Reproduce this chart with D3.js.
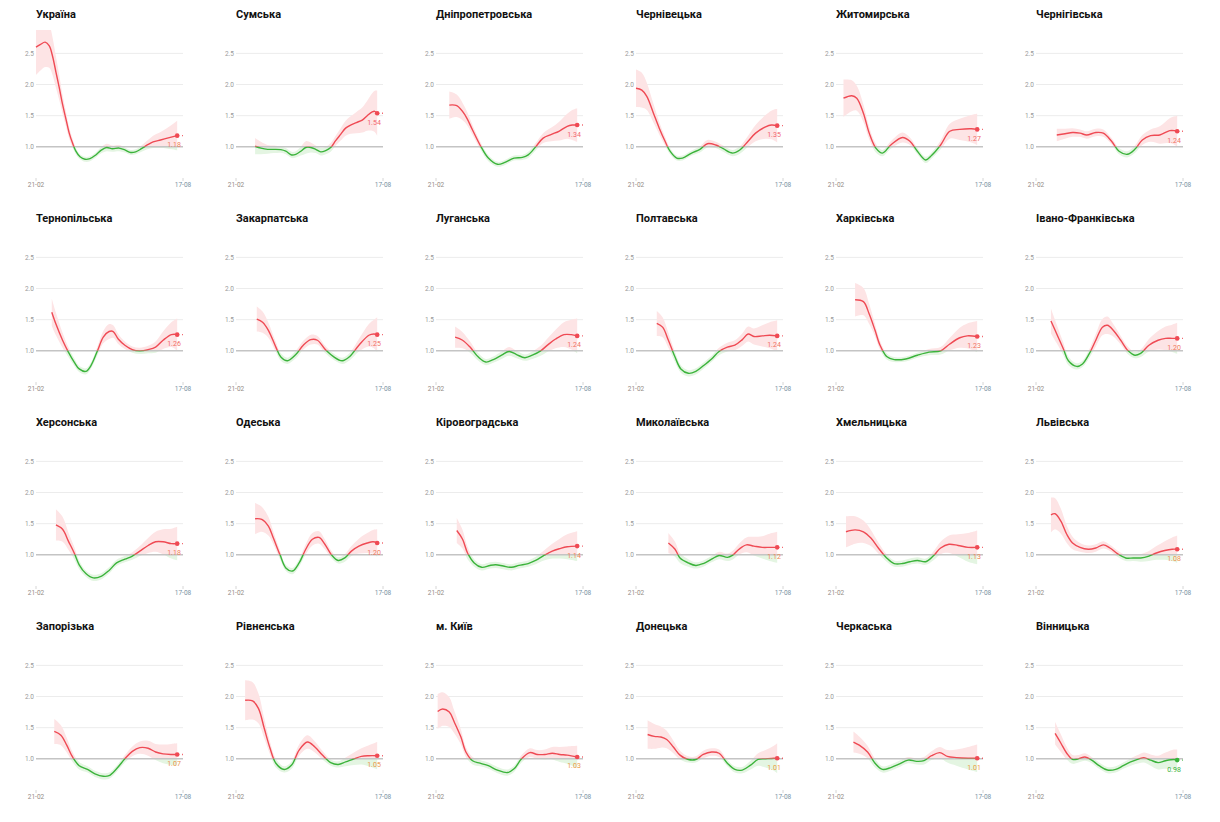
<!DOCTYPE html>
<html><head><meta charset="utf-8">
<script src="https://cdn.jsdelivr.net/npm/d3@7"></script>
<style>body{margin:0;background:#fff}svg{display:block}</style>
</head><body>
<svg id="chart" width="1220" height="822"></svg>
<script>
const regionNames = ["Україна","Сумська","Дніпропетровська","Чернівецька","Житомирська","Чернігівська",
  "Тернопільська","Закарпатська","Луганська","Полтавська","Харківська","Івано-Франківська",
  "Херсонська","Одеська","Кіровоградська","Миколаївська","Хмельницька","Львівська",
  "Запорізька","Рівненська","м. Київ","Донецька","Черкаська","Вінницька"];
const startDate = "2021-02-21", endDate = "2021-08-17";
const xTickLabels = ["21-02","17-08"];
const yTicks = [1.0,1.5,2.0,2.5];
const endLabels = ["1.18","1.54","1.34","1.35","1.27","1.24","1.26","1.25","1.24","1.24","1.23","1.20",
  "1.18","1.20","1.14","1.12","1.13","1.08","1.07","1.05","1.03","1.01","1.01","0.98"];

// [day offset from 21-02, Rt, half-width of interval]
const ukraine = [[0,2.60,.45],[5,2.64,.42],[11,2.68,.4],[16,2.62,.35],[20,2.45,.3],[24,2.2,.25],[28,1.95,.2],[32,1.68,.15],[36,1.45,.12],[40,1.22,.09],[44,1.06,.07],[48,0.93,.05],[53,0.84,.04],[59,0.80,.04],[65,0.81,.04],[72,0.87,.04],[79,0.95,.05],[85,0.99,.06],[92,0.97,.05],[100,0.98,.05],[107,0.95,.04],[114,0.91,.04],[120,0.92,.04],[127,0.97,.05],[134,1.03,.07],[141,1.08,.1],[150,1.11,.13],[157,1.135,.16],[164,1.16,.2],[170,1.18,.24]];
const sumy = [[23,1.01,.13],[30,0.98,.1],[38,0.96,.07],[46,0.96,.06],[54,0.955,.05],[60,0.93,.05],[67,0.87,.05],[72,0.88,.05],[78,0.93,.07],[84,0.99,.1],[90,0.99,.08],[96,0.96,.06],[102,0.92,.06],[108,0.94,.06],[114,0.99,.07],[120,1.1,.08],[126,1.2,.1],[132,1.3,.12],[138,1.35,.14],[145,1.39,.17],[152,1.43,.2],[158,1.5,.24],[164,1.56,.3],[167,1.57,.33],[170,1.54,.36]];
const dnipro = [[16,1.67,.22],[25,1.66,.18],[35,1.51,.12],[44,1.27,.08],[53,1.03,.06],[63,0.82,.05],[74,0.72,.04],[83,0.75,.04],[94,0.82,.04],[104,0.83,.04],[111,0.87,.05],[120,1.0,.06],[129,1.14,.08],[139,1.20,.11],[148,1.25,.15],[158,1.33,.2],[164,1.35,.24],[170,1.35,.27]];
const chernivtsi = [[0,1.94,.3],[7,1.91,.28],[13,1.81,.22],[21,1.54,.15],[28,1.30,.1],[35,1.09,.07],[41,0.93,.05],[49,0.82,.04],[56,0.82,.04],[67,0.90,.04],[77,0.96,.05],[86,1.05,.06],[96,1.03,.05],[105,0.97,.05],[116,0.90,.05],[125,0.95,.06],[135,1.09,.09],[144,1.22,.13],[156,1.32,.19],[163,1.35,.23],[170,1.34,.27]];
const zhytomyr = [[9,1.78,.3],[19,1.82,.25],[25,1.78,.2],[33,1.54,.14],[40,1.22,.1],[48,0.98,.07],[56,0.90,.05],[66,1.03,.06],[80,1.15,.08],[89,1.09,.06],[98,0.93,.05],[108,0.79,.05],[115,0.86,.05],[126,1.03,.07],[137,1.25,.12],[149,1.28,.17],[163,1.29,.22],[170,1.28,.25]];
const chernihiv = [[25,1.19,.1],[35,1.21,.08],[44,1.23,.07],[53,1.22,.06],[61,1.19,.06],[72,1.23,.06],[81,1.22,.06],[91,1.09,.05],[100,0.93,.05],[110,0.88,.05],[119,0.96,.06],[128,1.11,.08],[138,1.18,.1],[149,1.19,.14],[161,1.26,.2],[167,1.26,.23],[170,1.25,.25]];
const ternopil = [[19,1.62,.22],[24,1.43,.18],[32,1.17,.12],[39,0.98,.08],[46,0.82,.06],[52,0.71,.05],[60,0.67,.05],[66,0.76,.05],[74,1.0,.07],[81,1.22,.1],[88,1.31,.12],[93,1.31,.1],[99,1.19,.08],[107,1.09,.06],[116,1.02,.05],[125,1.0,.05],[135,1.02,.06],[144,1.06,.09],[153,1.17,.14],[163,1.26,.2],[170,1.26,.26]];
const zakarpattia = [[25,1.51,.2],[32,1.46,.17],[39,1.33,.12],[48,1.06,.08],[54,0.90,.06],[62,0.84,.05],[72,0.94,.06],[81,1.09,.07],[90,1.18,.08],[98,1.17,.07],[107,1.03,.06],[117,0.91,.05],[128,0.84,.05],[137,0.91,.06],[148,1.09,.1],[160,1.25,.18],[166,1.27,.23],[170,1.26,.28]];
const luhansk = [[23,1.22,.17],[32,1.17,.13],[41,1.06,.09],[51,0.90,.06],[60,0.82,.05],[69,0.86,.05],[79,0.93,.06],[88,0.99,.07],[97,0.94,.06],[107,0.89,.05],[116,0.93,.06],[126,1.0,.08],[135,1.10,.11],[144,1.19,.15],[154,1.26,.2],[163,1.26,.24],[170,1.24,.28]];
const poltava = [[25,1.44,.2],[32,1.38,.16],[39,1.17,.12],[47,0.90,.08],[54,0.71,.06],[63,0.64,.05],[72,0.67,.05],[81,0.76,.05],[91,0.87,.05],[100,0.99,.06],[110,1.06,.07],[119,1.09,.08],[128,1.18,.1],[135,1.27,.12],[142,1.23,.13],[152,1.24,.17],[161,1.25,.21],[170,1.24,.25]];
const kharkiv = [[23,1.82,.27],[33,1.79,.22],[40,1.59,.16],[47,1.33,.1],[53,1.09,.07],[61,0.91,.05],[70,0.86,.04],[84,0.87,.04],[98,0.93,.04],[112,0.98,.05],[126,1.0,.06],[137,1.11,.1],[149,1.21,.16],[158,1.24,.2],[170,1.23,.25]];
const ivanoFrankivsk = [[18,1.48,.2],[25,1.27,.15],[33,1.03,.1],[39,0.84,.07],[49,0.75,.05],[56,0.79,.05],[64,0.95,.07],[72,1.17,.1],[80,1.38,.13],[86,1.41,.14],[93,1.33,.1],[102,1.17,.07],[111,1.0,.06],[119,0.93,.05],[126,0.96,.06],[136,1.09,.1],[147,1.17,.15],[156,1.20,.19],[164,1.20,.22],[170,1.20,.25]];
const kherson = [[24,1.48,.25],[32,1.41,.2],[39,1.22,.14],[46,1.03,.1],[52,0.84,.07],[60,0.70,.05],[69,0.63,.05],[79,0.66,.05],[88,0.75,.05],[97,0.87,.05],[107,0.93,.05],[116,0.98,.06],[125,1.06,.08],[135,1.15,.12],[144,1.21,.16],[153,1.21,.2],[163,1.18,.24],[170,1.18,.27]];
const odesa = [[23,1.58,.25],[31,1.57,.2],[39,1.46,.15],[45,1.27,.1],[53,1.0,.07],[60,0.79,.05],[68,0.74,.05],[76,0.87,.06],[84,1.09,.08],[92,1.25,.1],[100,1.28,.1],[107,1.17,.08],[115,1.0,.06],[123,0.91,.05],[131,0.95,.06],[139,1.06,.08],[148,1.14,.12],[158,1.19,.16],[165,1.21,.19],[170,1.19,.22]];
const kirovohrad = [[25,1.39,.2],[32,1.25,.15],[38,1.03,.1],[46,0.87,.06],[55,0.80,.05],[65,0.83,.05],[72,0.84,.05],[81,0.82,.05],[91,0.80,.05],[100,0.83,.05],[111,0.86,.05],[120,0.91,.06],[130,0.99,.08],[140,1.06,.12],[149,1.10,.16],[158,1.13,.2],[170,1.14,.24]];
const mykolaiv = [[39,1.19,.16],[47,1.09,.12],[53,0.95,.08],[63,0.87,.06],[72,0.83,.05],[81,0.86,.05],[91,0.93,.05],[100,0.99,.06],[110,0.96,.06],[116,0.99,.07],[124,1.09,.09],[133,1.16,.12],[142,1.14,.15],[152,1.12,.18],[161,1.12,.22],[170,1.12,.25]];
const khmelnytskyi = [[12,1.37,.25],[23,1.40,.22],[33,1.37,.18],[42,1.27,.13],[51,1.11,.09],[61,0.95,.06],[70,0.86,.05],[80,0.86,.05],[89,0.89,.05],[98,0.91,.05],[108,0.89,.05],[117,0.98,.07],[126,1.11,.1],[136,1.17,.14],[147,1.15,.18],[159,1.12,.23],[170,1.12,.27]];
const lviv = [[18,1.64,.28],[23,1.66,.25],[30,1.54,.2],[37,1.33,.14],[44,1.19,.1],[53,1.12,.07],[63,1.09,.06],[72,1.11,.06],[81,1.16,.06],[89,1.11,.05],[98,1.02,.05],[108,0.95,.05],[117,0.95,.05],[126,0.95,.06],[136,0.98,.08],[145,1.03,.11],[155,1.07,.15],[164,1.09,.19],[170,1.09,.22]];
const zaporizhzhia = [[22,1.44,.2],[30,1.38,.16],[37,1.22,.12],[44,1.03,.08],[52,0.89,.06],[62,0.83,.05],[71,0.76,.05],[81,0.72,.05],[88,0.73,.05],[97,0.84,.05],[107,1.0,.06],[116,1.12,.08],[125,1.18,.1],[135,1.17,.12],[144,1.11,.13],[153,1.08,.15],[163,1.07,.17],[170,1.07,.18]];
const rivne = [[11,1.94,.32],[20,1.93,.3],[27,1.81,.24],[34,1.49,.16],[41,1.17,.1],[48,0.93,.07],[58,0.83,.05],[67,0.90,.06],[76,1.14,.09],[86,1.27,.11],[95,1.19,.09],[104,1.06,.07],[114,0.94,.05],[123,0.91,.05],[132,0.95,.07],[142,1.0,.1],[151,1.04,.13],[160,1.05,.17],[170,1.05,.22]];
const kyivCity = [[2,1.76,.28],[8,1.80,.27],[16,1.75,.24],[22,1.59,.18],[30,1.35,.12],[36,1.11,.08],[44,0.97,.06],[53,0.93,.05],[63,0.89,.05],[74,0.82,.05],[86,0.78,.05],[94,0.84,.05],[103,1.0,.06],[113,1.10,.07],[122,1.07,.07],[131,1.07,.08],[140,1.09,.1],[149,1.07,.12],[158,1.06,.14],[170,1.03,.18]];
const donetsk = [[14,1.39,.23],[22,1.36,.2],[30,1.35,.17],[37,1.31,.14],[45,1.19,.1],[53,1.06,.07],[63,0.99,.05],[72,0.99,.05],[81,1.07,.06],[91,1.11,.06],[100,1.09,.06],[110,0.93,.05],[119,0.83,.05],[128,0.82,.05],[138,0.90,.07],[147,0.99,.1],[156,1.0,.14],[166,1.01,.2],[170,1.01,.24]];
const cherkasy = [[21,1.27,.17],[28,1.22,.14],[38,1.11,.1],[47,0.93,.07],[56,0.83,.05],[66,0.86,.05],[75,0.91,.05],[87,0.98,.05],[97,0.96,.05],[106,0.97,.06],[115,1.05,.07],[125,1.10,.09],[134,1.04,.1],[145,1.02,.13],[159,1.01,.18],[170,1.01,.22]];
const vinnytsia = [[23,1.41,.18],[30,1.25,.14],[37,1.09,.1],[44,0.99,.07],[51,1.0,.06],[59,1.03,.06],[67,0.98,.05],[76,0.89,.05],[86,0.82,.05],[96,0.83,.05],[105,0.89,.05],[114,0.95,.06],[124,1.0,.07],[130,1.02,.08],[138,0.98,.09],[147,0.94,.11],[156,0.97,.13],[166,0.99,.16],[170,0.98,.17]];

const regionSeries = [ukraine,sumy,dnipro,chernivtsi,zhytomyr,chernihiv,
  ternopil,zakarpattia,luhansk,poltava,kharkiv,ivanoFrankivsk,
  kherson,odesa,kirovohrad,mykolaiv,khmelnytskyi,lviv,
  zaporizhzhia,rivne,kyivCity,donetsk,cherkasy,vinnytsia];

const RED = "#ef4a54", GREEN = "#3bb33b", PINK = "#fde4e5", LGREEN = "#e4f5e2";
const parse = d3.timeParse("%Y-%m-%d");
const t0 = parse(startDate), t1 = parse(endDate);
const x = d3.scaleTime().domain([t0, t1]).range([36, 183]);
const y = d3.scaleLinear().domain([0.5, 2.875]).range([178, 30]);
const dayToDate = d => d3.timeDay.offset(t0, d);
const labelColor = d3.scaleLinear().domain([1, 1.3]).range(["#eaa040", "#f2646c"]).clamp(true);

const svg = d3.select("#chart");
const defs = svg.append("defs");
defs.append("clipPath").attr("id","clipAbove").append("rect")
  .attr("x",0).attr("y",y.range()[1]).attr("width",200).attr("height",y(1)-y.range()[1]);
defs.append("clipPath").attr("id","clipBelow").append("rect")
  .attr("x",0).attr("y",y(1)).attr("width",200).attr("height",60);

const line = d3.line().x(p => x(dayToDate(p[0]))).y(p => y(p[1])).curve(d3.curveCatmullRom.alpha(0.5));
const area = d3.area().x(p => x(dayToDate(p[0]))).y0(p => y(p[1]-p[2])).y1(p => y(p[1]+p[2])).curve(d3.curveCatmullRom.alpha(0.5));
const font = "Roboto, 'Open Sans', sans-serif";

regionNames.forEach((name, i) => {
  const col = i % 6, row = Math.floor(i / 6);
  const g = svg.append("g").attr("transform", `translate(${col*200},${row*204})`);
  const data = regionSeries[i];

  g.append("text").attr("x",36).attr("y",18).text(name)
    .attr("font-family",font).attr("font-weight",700).attr("font-size",11).attr("fill","#111");

  // grid
  g.selectAll(".grid").data(yTicks.filter(v => v !== 1)).join("line")
    .attr("x1",36).attr("x2",183).attr("y1",d=>y(d)).attr("y2",d=>y(d))
    .attr("stroke","#ececec").attr("stroke-width",1);
  g.selectAll(".ylab").data(yTicks).join("text")
    .attr("x",34).attr("y",d=>y(d)+2.3).attr("text-anchor","end")
    .attr("font-family",font).attr("font-size",6.5).attr("fill","#9a9a9a")
    .text(d=>d.toFixed(1));

  // x ticks
  const xt = [t0, t1];
  g.selectAll(".xt").data(xt).join("line")
    .attr("x1",d=>x(d)).attr("x2",d=>x(d)).attr("y1",178).attr("y2",181)
    .attr("stroke","#d6d6d6");
  g.selectAll(".xl").data(xt).join("text")
    .attr("x",d=>x(d)).attr("y",187).attr("text-anchor","middle")
    .attr("font-family",font).attr("font-size",6.5)
    .attr("fill",(d,j)=> j===0 ? "#958b85" : "#7891a3")
    .text((d,j)=>xTickLabels[j]);

  // bands
  const bandG = g.append("g");
  bandG.append("path").datum(data).attr("d",area).attr("fill",PINK).attr("clip-path","url(#clipAbove)");
  bandG.append("path").datum(data).attr("d",area).attr("fill",LGREEN).attr("clip-path","url(#clipBelow)");

  // reference line at 1.0
  g.append("line").attr("x1",36).attr("x2",183).attr("y1",y(1)).attr("y2",y(1))
    .attr("stroke","#c4c4c4").attr("stroke-width",1.5);

  // lines
  g.append("path").datum(data).attr("d",line).attr("fill","none").attr("stroke",RED)
    .attr("stroke-width",1.4).attr("clip-path","url(#clipAbove)");
  g.append("path").datum(data).attr("d",line).attr("fill","none").attr("stroke",GREEN)
    .attr("stroke-width",1.4).attr("clip-path","url(#clipBelow)");

  const last = data[data.length-1];
  const lc = last[1] >= 1 ? RED : GREEN;
  const lx = x(dayToDate(last[0])), ly = y(last[1]);
  g.append("line").attr("x1",lx).attr("x2",x(t1)).attr("y1",ly).attr("y2",ly)
    .attr("stroke",lc).attr("stroke-width",1.4).attr("stroke-dasharray","2,3");
  g.append("circle").attr("cx",lx).attr("cy",ly).attr("r",2.3).attr("fill",lc);
  const lv = +endLabels[i];
  g.append("text").attr("x",lx-10).attr("y",ly+11.5)
    .attr("font-family",font).attr("font-size",7)
    .attr("fill", lv < 1 ? GREEN : labelColor(lv))
    .text(endLabels[i]);
});
</script>
</body></html>
